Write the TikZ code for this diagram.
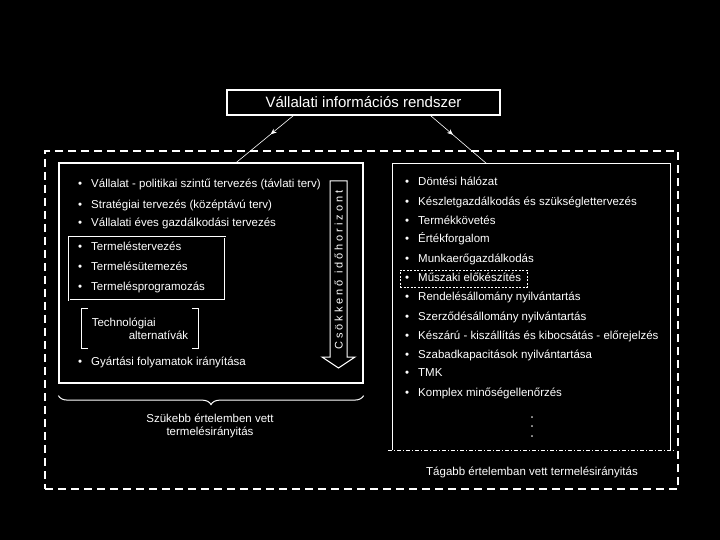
\documentclass[tikz,border=0pt]{standalone}
\usepackage{fontspec}
\setmainfont{Liberation Sans}
\usepackage{tikz}
\usetikzlibrary{arrows.meta, decorations.markings, decorations.pathreplacing}

\newcommand{\bul}[1]{\makebox[13pt][l]{\textbullet}#1}

\begin{document}
\begin{tikzpicture}[
    x=1pt, y=-1pt, color=white,
    box/.style={draw, line width=1.2pt},
    item/.style={anchor=west, inner sep=0pt, text height=8.5pt, text depth=2.5pt, font=\fontsize{11.5}{14}\selectfont},
    caption/.style={align=center, font=\fontsize{11.5}{12.5}\selectfont},
    midarrow/.style={line width=0.6pt, decoration={markings, mark=at position 0.4 with {\arrow{Stealth[length=6pt, width=5pt]}}}, postaction={decorate}},
    finedash/.style={line width=0.8pt, dash pattern=on 2pt off 1.5pt},
]
% Background
\fill[black] (0,0) rectangle (720,540);

% Title
\node[box, minimum width=273, minimum height=25, font=\fontsize{15}{18}\selectfont] (title) at (363.5,102.5) {Vállalati információs rendszer};

% Outer frame
\node[draw, line width=1.6pt, dash pattern=on 8pt off 5pt, minimum width=633, minimum height=338] (outer) at (361.5,320) {};

% Left box
\node[box, minimum width=304, minimum height=220] (lbox) at (211,273) {};
\node[item] (l1) at (78,185) {\bul{Vállalat - politikai szintű tervezés (távlati terv)}};
\node[item] (l2) at (78,205) {\bul{Stratégiai tervezés (középtávú terv)}};
\node[item] (l3) at (78,223) {\bul{Vállalati éves gazdálkodási tervezés}};

% Production planning group
\node[draw, double=black, double distance=1pt, line width=0.7pt, minimum width=156, minimum height=63] (prod) at (147,268.5) {};
\node[item] (l4) at (78,248) {\bul{Termeléstervezés}};
\node[item] (l5) at (78,267) {\bul{Termelésütemezés}};
\node[item] (l6) at (78,287) {\bul{Termelésprogramozás}};

% Technology alternatives
\node[minimum width=116, minimum height=40, inner sep=0pt, align=left, font=\fontsize{11.5}{13}\selectfont] (tech) at (140,329) {Technológiai\\\hspace{37pt}alternatívák};
\draw[line width=1pt] (tech.north west) ++(6,0) -- ++(-6,0) -- ++(0,40) -- ++(6,0);
\draw[line width=1pt] (tech.north east) ++(-6,0) -- ++(6,0) -- ++(0,40) -- ++(-6,0);

\node[item] (l7) at (78,362) {\bul{Gyártási folyamatok irányítása}};

% Time horizon arrow
\node[rotate=90, inner sep=0pt, font=\fontsize{11}{13}\selectfont\addfontfeature{LetterSpace=27}] (horizon) at (338.5,270) {Csökkenő időhorizont};
\draw[line width=1pt] (330,181) -- (347,181) -- (347,357) -- (355,357) -- (338.5,368) -- (322,357) -- (330,357) -- cycle;

% Brace
\draw[line width=1pt, decorate, decoration={brace, amplitude=9pt}] ([yshift=-12pt]lbox.south east) -- ([yshift=-12pt]lbox.south west);
\node[caption] (narrow) at (210,426) {Szükebb értelemben vett\\termelésirányitás};

% Right box
\node[minimum width=277, minimum height=286] (rbox) at (531.5,307) {};
\draw[line width=1.2pt] (rbox.south west) -- (rbox.north west) -- (rbox.north east) -- (rbox.south east);
\draw[line width=0.9pt, dash pattern=on 4pt off 2pt on 1pt off 2pt] ([xshift=-5pt]rbox.south west) -- ([xshift=5pt]rbox.south east);

\node[item] (r1) at (405,183) {\bul{Döntési hálózat}};
\node[item] (r2) at (405,203) {\bul{Készletgazdálkodás és szükséglettervezés}};
\node[item] (r3) at (405,222) {\bul{Termékkövetés}};
\node[item] (r4) at (405,240) {\bul{Értékforgalom}};
\node[item] (r5) at (405,259) {\bul{Munkaerőgazdálkodás}};
\node[item] (r6) at (405,278) {\bul{Műszaki előkészítés}};
\node[draw, finedash, minimum width=127, minimum height=17] (prep) at (463.5,278.5) {};
\node[item] (r7) at (405,297) {\bul{Rendelésállomány nyilvántartás}};
\node[item] (r8) at (405,317) {\bul{Szerződésállomány nyilvántartás}};
\node[item] (r9) at (405,336) {\bul{Készárú - kiszállítás és kibocsátás - előrejelzés}};
\node[item] (r10) at (405,355) {\bul{Szabadkapacitások nyilvántartása}};
\node[item] (r11) at (405,373) {\bul{TMK}};
\node[item] (r12) at (405,393) {\bul{Komplex minőségellenőrzés}};
\node[rotate=90, inner sep=0pt, font=\fontsize{14}{16}\selectfont] (rdots) at (532,427) {. . .};
\node[caption] (wide) at (532,472) {Tágabb értelemban vett termelésirányitás};

% Arrows
\draw[midarrow] ([xshift=67pt]title.south west) -- ([xshift=178pt]lbox.north west);
\draw[midarrow] ([xshift=-70pt]title.south east) -- ([xshift=94pt]rbox.north west);
\end{tikzpicture}
\end{document}
